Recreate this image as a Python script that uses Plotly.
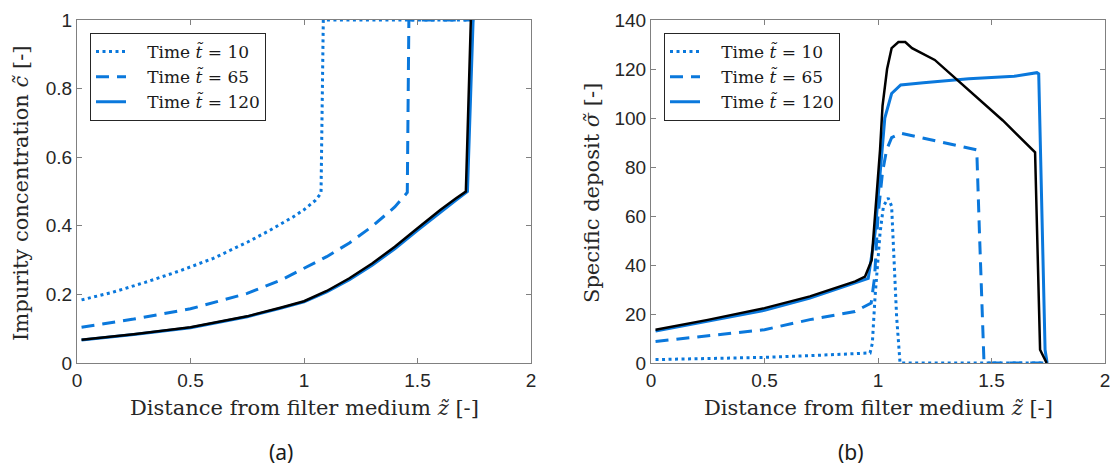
import plotly.graph_objects as go

# ---------------- data ----------------
# (a) impurity concentration
c10_z = [0.02, 0.15, 0.3, 0.45, 0.6, 0.75, 0.85, 0.95, 1.0, 1.05, 1.075, 1.085, 1.75]
c10_c = [0.184, 0.205, 0.235, 0.268, 0.305, 0.352, 0.387, 0.425, 0.447, 0.474, 0.495, 1.0, 1.0]
c65_z = [0.02, 0.25, 0.5, 0.75, 0.9, 1.0, 1.1, 1.2, 1.3, 1.4, 1.455, 1.462, 1.75]
c65_c = [0.104, 0.128, 0.158, 0.203, 0.242, 0.275, 0.31, 0.35, 0.398, 0.455, 0.497, 1.0, 1.0]
c120_z = [0.02, 0.25, 0.5, 0.75, 0.9, 1.0, 1.1, 1.2, 1.3, 1.4, 1.5, 1.6, 1.67, 1.72, 1.745]
c120_c = [0.067, 0.083, 0.103, 0.135, 0.16, 0.178, 0.207, 0.243, 0.285, 0.333, 0.387, 0.44, 0.475, 0.5, 1.0]
cref_z = [0.02, 0.25, 0.5, 0.75, 0.9, 1.0, 1.1, 1.2, 1.3, 1.4, 1.5, 1.6, 1.67, 1.713, 1.735]
cref_c = [0.068, 0.084, 0.104, 0.136, 0.162, 0.18, 0.21, 0.247, 0.29, 0.339, 0.393, 0.446, 0.48, 0.5, 1.0]

# (b) specific deposit
s10_z = [0.02, 0.25, 0.5, 0.7, 0.965, 0.975, 0.987, 1.009, 1.024, 1.045, 1.06, 1.082, 1.097, 1.72]
s10_s = [1.4, 1.8, 2.3, 3.0, 4.1, 8.0, 27, 53, 64, 67.3, 64, 19, 0, 0]
s65_z = [0.02, 0.25, 0.5, 0.7, 0.899, 0.97, 0.985, 1.0, 1.02, 1.038, 1.06, 1.1, 1.2, 1.3, 1.435, 1.447, 1.464, 1.467, 1.73]
s65_s = [8.8, 11.0, 13.6, 17.7, 21.0, 24.5, 35, 60, 78, 87, 92, 93.8, 91.7, 89.7, 87, 53, 5.4, 0, 0]
s120_z = [0.02, 0.25, 0.5, 0.7, 0.9, 0.957, 0.987, 1.016, 1.03, 1.06, 1.1, 1.2, 1.4, 1.6, 1.7, 1.708, 1.736, 1.745]
s120_s = [13, 17, 21.5, 26.5, 32.6, 34.5, 53, 87, 100, 110, 113.5, 114.4, 116, 117, 118.5, 118, 5.4, 0]
sref_z = [0.02, 0.25, 0.5, 0.7, 0.9, 0.943, 0.972, 0.994, 1.009, 1.02, 1.04, 1.06, 1.09, 1.12, 1.15, 1.25, 1.4, 1.55, 1.692, 1.714, 1.743]
sref_s = [13.6, 17.6, 22.4, 27.2, 33.3, 35.3, 42, 66.6, 87, 105, 120, 128.5, 131, 131, 128.5, 123.7, 111.5, 99, 86, 5.4, 0]

legend_names = ["Time <i>t\u0303</i> = 10", "Time <i>t\u0303</i> = 65", "Time <i>t\u0303</i> = 120"]
x_ticks = [0, 0.5, 1, 1.5, 2]
x_ticktext = ["0", "0.5", "1", "1.5", "2"]
c_ticks = [0, 0.2, 0.4, 0.6, 0.8, 1]
c_ticktext = ["0", "0.2", "0.4", "0.6", "0.8", "1"]
s_ticks = [0, 20, 40, 60, 80, 100, 120, 140]

BLUE = "#0a78dc"
BLACK = "#000000"
SERIF = "'DejaVu Serif', serif"
SANS = "'Liberation Sans', Arial, sans-serif"
PAD = "\u00a0\u00a0\u00a0"

fig = go.Figure()

dashes = ["3px,3.5px", "13px,8px", "solid"]
left_sets = [(c10_z, c10_c), (c65_z, c65_c), (c120_z, c120_c)]
right_sets = [(s10_z, s10_s), (s65_z, s65_s), (s120_z, s120_s)]

for (zz, cc), name, d in zip(left_sets, legend_names, dashes):
    fig.add_trace(go.Scatter(x=zz, y=cc, mode="lines", name=PAD + name,
                             line=dict(color=BLUE, width=3, dash=d),
                             xaxis="x", yaxis="y", legend="legend"))
fig.add_trace(go.Scatter(x=cref_z, y=cref_c, mode="lines", showlegend=False,
                         line=dict(color=BLACK, width=2.5), xaxis="x", yaxis="y"))
for (zz, ss), name, d in zip(right_sets, legend_names, dashes):
    fig.add_trace(go.Scatter(x=zz, y=ss, mode="lines", name=PAD + name,
                             line=dict(color=BLUE, width=3, dash=d),
                             xaxis="x2", yaxis="y2", legend="legend2"))
fig.add_trace(go.Scatter(x=sref_z, y=sref_s, mode="lines", showlegend=False,
                         line=dict(color=BLACK, width=2.5), xaxis="x2", yaxis="y2"))

W, H = 1110, 469
def px(x):
    return x / W
def py(y):
    return 1 - y / H

axis_common = dict(showgrid=False, zeroline=False, showline=True, mirror="allticks",
                   linecolor="#808080", linewidth=1, ticks="inside", ticklen=5,
                   tickcolor="#808080", automargin=False, ticklabeloverflow="allow",
                   tickfont=dict(family=SANS, size=19, color="#262626"))

leg_common = dict(xanchor="left", yanchor="top",
                  bgcolor="white", bordercolor="#262626", borderwidth=1,
                  font=dict(family=SERIF, size=17, color="#1a1a1a"),
                  tracegroupgap=0, itemwidth=30)

fig.update_layout(
    width=W, height=H, margin=dict(l=0, r=0, t=0, b=0, pad=0, autoexpand=False),
    paper_bgcolor="white", plot_bgcolor="white",
    xaxis=dict(domain=[px(77), px(531)], range=[0, 2], tickvals=x_ticks, ticktext=x_ticktext,
               anchor="y", **axis_common),
    yaxis=dict(domain=[py(363), py(20)], range=[0, 1], tickvals=c_ticks, ticktext=c_ticktext,
               anchor="x", **axis_common),
    xaxis2=dict(domain=[px(651), px(1105)], range=[0, 2], tickvals=x_ticks, ticktext=x_ticktext,
                anchor="y2", **axis_common),
    yaxis2=dict(domain=[py(363), py(20)], range=[0, 140], tickvals=s_ticks,
                anchor="x2", **axis_common),
    legend=dict(x=px(90), y=py(33), **leg_common),
    legend2=dict(x=px(664), y=py(33), **leg_common),
    showlegend=True,
)

title_font = dict(family=SERIF, size=21, color="#262626")
for xc in (304, 878):
    fig.add_annotation(text="Distance from filter medium <i>z\u0303</i> [-]", x=px(xc), y=py(408),
                       xref="paper", yref="paper", showarrow=False,
                       xanchor="center", yanchor="middle", font=title_font)
fig.add_annotation(text="Impurity concentration <i>c\u0303</i> [-]", x=px(21), y=py(193),
                   xref="paper", yref="paper", showarrow=False, textangle=-90,
                   xanchor="center", yanchor="middle", font=title_font)
fig.add_annotation(text="Specific deposit <i>\u03c3\u0303</i> [-]", x=px(592), y=py(193),
                   xref="paper", yref="paper", showarrow=False, textangle=-90,
                   xanchor="center", yanchor="middle", font=title_font)
cap_font = dict(family="'Noto Sans', sans-serif", size=21, color="#1a1a1a")
fig.add_annotation(text="(a)", x=px(281), y=py(452), xref="paper", yref="paper",
                   showarrow=False, xanchor="center", yanchor="middle", font=cap_font)
fig.add_annotation(text="(b)", x=px(851), y=py(452), xref="paper", yref="paper",
                   showarrow=False, xanchor="center", yanchor="middle", font=cap_font)

fig.write_html("out.html", config={"displayModeBar": False},
               post_script="document.body.style.margin='0';document.body.style.padding='0';")
